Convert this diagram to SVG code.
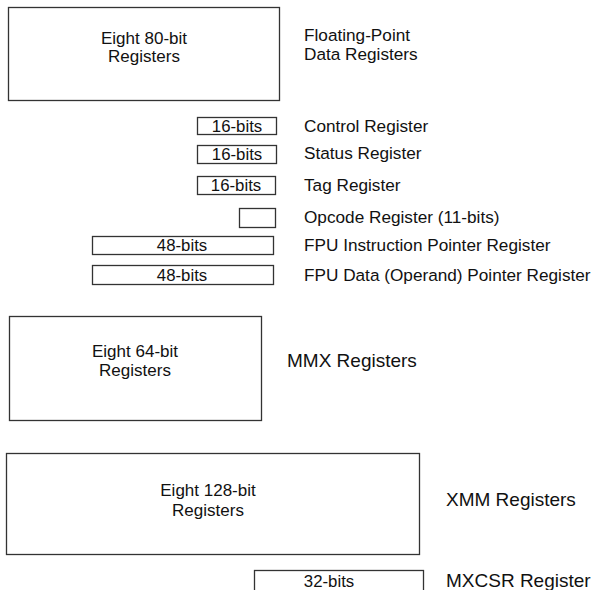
<svg xmlns="http://www.w3.org/2000/svg" width="593" height="590" viewBox="0 0 593 590">
<style>
rect{fill:#fff;stroke:#333;stroke-width:1.3}
text{font-family:"Liberation Sans",Arial,sans-serif;fill:#111}
.b{font-size:17px;text-anchor:middle}
.s{font-size:16.8px;text-anchor:middle}
.l{font-size:17.2px}
.L{font-size:19px}
</style>
<rect width="593" height="590" style="fill:#fff;stroke:none"/>
<g id="fpu-data">
<rect x="8.5" y="7.5" width="271" height="93"/>
<text class="b" x="144" y="44">Eight 80-bit</text>
<text class="b" x="144" y="62">Registers</text>
<text class="l" x="304" y="41">Floating-Point</text>
<text class="l" x="304" y="60">Data Registers</text>
</g>
<g id="control">
<rect x="197.5" y="117.5" width="79" height="17"/>
<text class="s" x="237" y="132">16-bits</text>
<text class="l" x="304" y="132">Control Register</text>
</g>
<g id="status">
<rect x="197.5" y="145.5" width="79" height="18"/>
<text class="s" x="237" y="160">16-bits</text>
<text class="l" x="304" y="159">Status Register</text>
</g>
<g id="tag">
<rect x="197.5" y="176.5" width="78" height="18"/>
<text class="s" x="236" y="191">16-bits</text>
<text class="l" x="304" y="191">Tag Register</text>
</g>
<g id="opcode">
<rect x="239.5" y="208.5" width="36" height="19"/>
<text class="l" x="304" y="223">Opcode Register (11-bits)</text>
</g>
<g id="fip">
<rect x="92.5" y="236.5" width="181" height="18"/>
<text class="s" x="182" y="251">48-bits</text>
<text class="l" x="304" y="251">FPU Instruction Pointer Register</text>
</g>
<g id="fdp">
<rect x="92.5" y="265.5" width="181" height="19"/>
<text class="s" x="182" y="281">48-bits</text>
<text class="l" x="304" y="281">FPU Data (Operand) Pointer Register</text>
</g>
<g id="mmx">
<rect x="9.5" y="316.5" width="252" height="104"/>
<text class="b" x="135" y="357">Eight 64-bit</text>
<text class="b" x="135" y="376">Registers</text>
<text class="L" x="287" y="367">MMX Registers</text>
</g>
<g id="xmm">
<rect x="6.5" y="453.5" width="413" height="101"/>
<text class="b" x="208" y="496">Eight 128-bit</text>
<text class="b" x="208" y="516">Registers</text>
<text class="L" x="446" y="506">XMM Registers</text>
</g>
<g id="mxcsr">
<rect x="254.5" y="570.5" width="169" height="25"/>
<text class="s" x="329" y="587">32-bits</text>
<text class="L" x="446" y="587">MXCSR Register</text>
</g>
<g id="connectors"/>
</svg>
